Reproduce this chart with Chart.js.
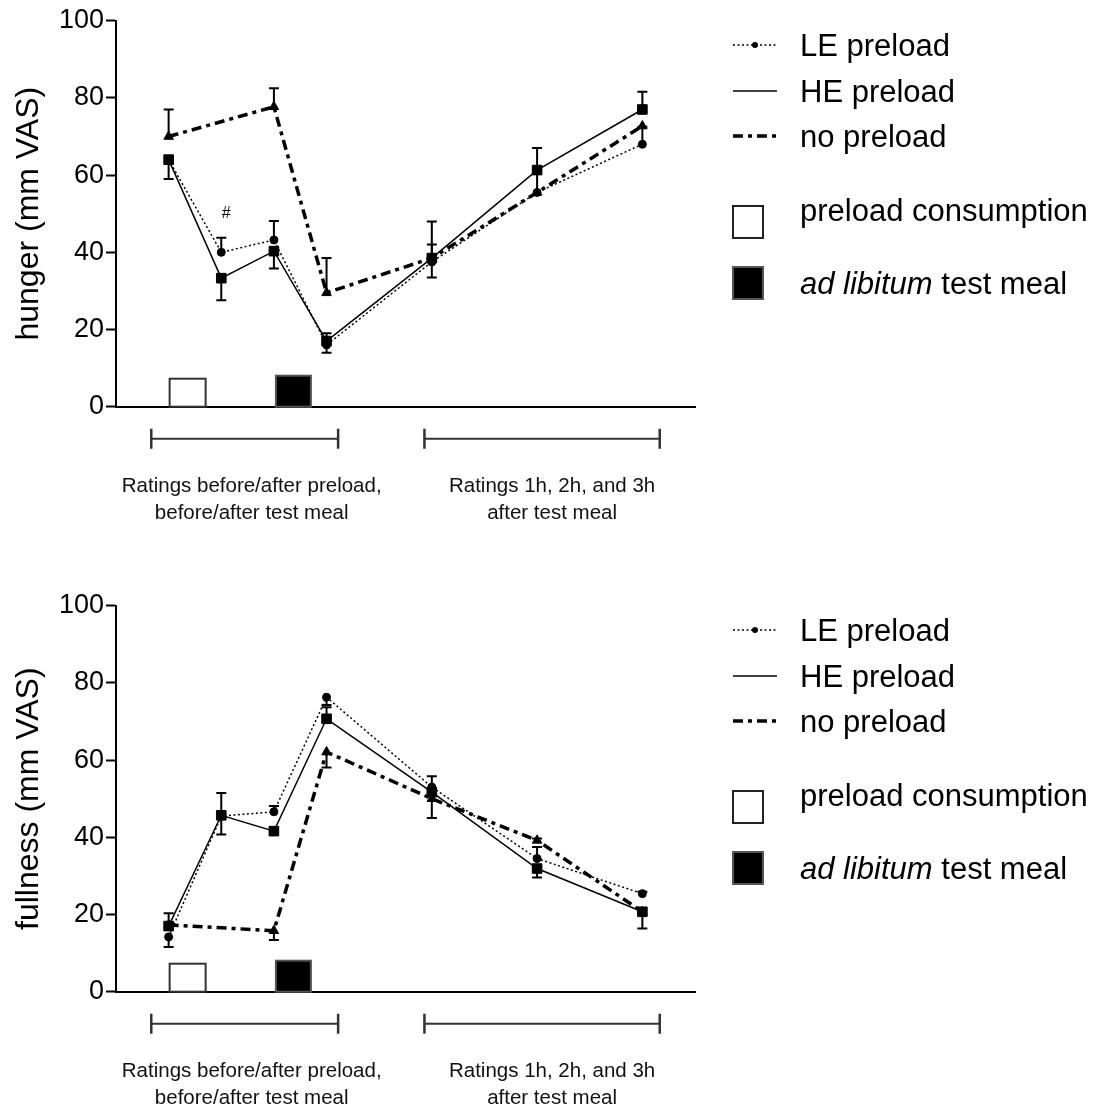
<!DOCTYPE html>
<html>
<head>
<meta charset="utf-8">
<script src="https://cdn.jsdelivr.net/npm/chart.js@4.4.1/dist/chart.umd.min.js"></script>
<style>
  html, body { margin: 0; padding: 0; background: #fff; }
  body { width: 1095px; height: 1110px; position: relative; overflow: hidden; }
  .panel { position: absolute; left: 0; width: 1095px; height: 525px; }
  #hungerPanel { top: 0; }
  #fullnessPanel { top: 585px; }
</style>
</head>
<body>
<div class="panel" id="hungerPanel"><canvas id="hungerChart"></canvas></div>
<div class="panel" id="fullnessPanel"><canvas id="fullnessChart"></canvas></div>
<script>
// time points (before/after preload, before/after meal, 1h, 2h, 3h)
const timePoints = [0, 1, 2, 3, 5, 7, 9];
const seriesNames = ["LE preload", "HE preload", "no preload"];
const yTicks = [0, 20, 40, 60, 80, 100];

const hungerLE = [64, 40, 43.2, 16, 37.5, 55.5, 68];
const hungerHE = [64, 33.3, 40.3, 17, 38.5, 61.3, 77];
const hungerNone = [70, null, 77.7, 29.5, 38.5, 55.5, 72.7];
// SEM, sign tells on which side of the mean the bar is drawn
const hungerLEErr = [null, 3.8, 4.9, -2, 4.5, 5.5, 4.5];
const hungerHEErr = [-5, -5.7, -4.5, 2, -5, 5.7, 4.6];
const hungerNoneErr = [7, null, 4.8, 9, 9.5, null, null];

const fullnessLE = [14.2, 45.5, 46.6, 76.3, 53, 34.5, 25.4];
const fullnessHE = [17, 45.7, 41.6, 70.7, 51.7, 31.9, 20.7];
const fullnessNone = [17.3, null, 15.8, 62.1, 50, 39.2, 20.7];
const fullnessLEErr = [-2.6, -4.8, 1.5, -2, 2.8, 3, 0.5];
const fullnessHEErr = [3.3, 5.8, null, 3, null, -2.3, -4.3];
const fullnessNoneErr = [null, null, -2.4, -4, -5, 0.5, null];

const eventLabels = ["preload consumption", "ad libitum test meal"];
const eventStart = [0, 2];
const periodLabels = [
  ["Ratings before/after preload,", "before/after test meal"],
  ["Ratings 1h, 2h, and 3h", "after test meal"]
];
const periodRange = [[-0.33, 3.22], [4.86, 9.33]];

const FONT = '"Liberation Sans", Arial, sans-serif';

const seriesStyle = [
  { borderWidth: 1.5, borderDash: [2, 2.5], pointStyle: 'circle', pointRadius: 4 },
  { borderWidth: 1.5, borderDash: [], pointStyle: 'rect', pointRadius: 6.8 },
  { borderWidth: 3.5, borderDash: [10, 5, 4, 5], pointStyle: 'triangle', pointRadius: 5.5 }
];

function drawLegend(ctx) {
  const x0 = 733, x1 = 777, tx = 800;
  const baselines = [56, 102, 147];
  ctx.save();
  ctx.fillStyle = '#000';
  ctx.strokeStyle = '#000';
  ctx.font = `31px ${FONT}`;
  ctx.textBaseline = 'alphabetic';
  seriesNames.forEach((name, i) => {
    const st = seriesStyle[i];
    const ly = baselines[i] - 11;
    ctx.lineWidth = st.borderWidth;
    ctx.setLineDash(st.borderDash);
    ctx.beginPath(); ctx.moveTo(x0, ly); ctx.lineTo(x1, ly); ctx.stroke();
    ctx.setLineDash([]);
    if (i === 0) {
      ctx.beginPath(); ctx.arc((x0 + x1) / 2, ly, 3, 0, Math.PI * 2); ctx.fill();
    }
    ctx.fillText(name, tx, baselines[i]);
  });

  // event boxes
  ctx.lineWidth = 2;
  ctx.strokeStyle = '#222';
  ctx.fillStyle = '#fff';
  ctx.fillRect(733, 206, 30, 32);
  ctx.strokeRect(733, 206, 30, 32);
  ctx.fillStyle = '#000';
  ctx.fillRect(733, 267, 30, 32);
  ctx.strokeStyle = '#555';
  ctx.strokeRect(733, 267, 30, 32);

  ctx.fillStyle = '#000';
  ctx.fillText(eventLabels[0], tx, 221);
  const words = eventLabels[1].split(' ');
  const ital = words.slice(0, 2).join(' ');
  ctx.font = `italic 31px ${FONT}`;
  ctx.fillText(ital, tx, 294);
  const w = ctx.measureText(ital + ' ').width;
  ctx.font = `31px ${FONT}`;
  ctx.fillText(words.slice(2).join(' '), tx + w, 294);
  ctx.restore();
}

const decorPlugin = {
  id: 'decor',
  afterDatasetsDraw(chart, args, opts) {
    const { ctx, chartArea, scales: { x, y } } = chart;
    ctx.save();

    // error bars
    ctx.strokeStyle = '#000';
    ctx.lineWidth = 2;
    ctx.setLineDash([]);
    chart.data.datasets.forEach(ds => {
      ds.data.forEach((p, i) => {
        const e = ds.errors[i];
        if (p.y == null || e == null) return;
        const px = x.getPixelForValue(p.x);
        const y0 = y.getPixelForValue(p.y);
        const y1 = y.getPixelForValue(p.y + e);
        ctx.beginPath();
        ctx.moveTo(px, y0); ctx.lineTo(px, y1);
        ctx.moveTo(px - 5, y1); ctx.lineTo(px + 5, y1);
        ctx.stroke();
      });
    });

    // preload / test meal boxes on the axis
    const bottom = chartArea.bottom;
    const bx0 = x.getPixelForValue(timePoints[eventStart[0]]) + 1;
    const bx1 = x.getPixelForValue(timePoints[eventStart[1]]) + 2;
    ctx.lineWidth = 2;
    ctx.fillStyle = '#fff';
    ctx.strokeStyle = '#333';
    ctx.fillRect(bx0, bottom - 28, 36, 28);
    ctx.strokeRect(bx0, bottom - 28, 36, 28);
    ctx.fillStyle = '#000';
    ctx.fillRect(bx1, bottom - 31, 35, 31);
    ctx.strokeStyle = '#555';
    ctx.strokeRect(bx1, bottom - 31, 35, 31);

    // period brackets
    ctx.strokeStyle = '#333';
    ctx.fillStyle = '#111';
    ctx.font = `20.5px ${FONT}`;
    ctx.textAlign = 'center';
    ctx.textBaseline = 'middle';
    const by = bottom + 32;
    periodRange.forEach((r, i) => {
      const a = x.getPixelForValue(r[0]);
      const b = x.getPixelForValue(r[1]);
      ctx.lineWidth = 2;
      ctx.beginPath(); ctx.moveTo(a, by); ctx.lineTo(b, by); ctx.stroke();
      ctx.lineWidth = 2.5;
      ctx.beginPath();
      ctx.moveTo(a, by - 10); ctx.lineTo(a, by + 10);
      ctx.moveTo(b, by - 10); ctx.lineTo(b, by + 10);
      ctx.stroke();
      const cx = (a + b) / 2 + (i === 0 ? 7 : 10);
      ctx.fillText(periodLabels[i][0], cx, bottom + 80);
      ctx.fillText(periodLabels[i][1], cx, bottom + 107);
    });

    // significance mark
    if (opts.mark) {
      const m = opts.mark;
      ctx.font = `16px ${FONT}`;
      ctx.fillStyle = '#000';
      ctx.fillText(m.text, x.getPixelForValue(timePoints[m.index]) + 5, y.getPixelForValue(m.value));
    }

    ctx.restore();
    drawLegend(ctx);
  }
};

function makeChart(id, title, series, errors, mark) {
  const datasets = series.map((vals, s) => ({
    label: seriesNames[s],
    data: timePoints.map((t, i) => ({ x: t, y: vals[i] })),
    errors: errors[s],
    borderColor: '#000',
    backgroundColor: '#000',
    pointBackgroundColor: '#000',
    pointBorderColor: '#000',
    pointBorderWidth: 1,
    borderWidth: seriesStyle[s].borderWidth,
    borderDash: seriesStyle[s].borderDash,
    pointStyle: seriesStyle[s].pointStyle,
    pointRadius: seriesStyle[s].pointRadius,
    spanGaps: true,
    tension: 0
  }));

  return new Chart(document.getElementById(id), {
    type: 'line',
    data: { datasets },
    plugins: [decorPlugin],
    options: {
      responsive: true,
      maintainAspectRatio: false,
      animation: false,
      layout: { padding: { top: 20.7, right: 400, bottom: 118.3, left: 0 } },
      plugins: {
        legend: { display: false },
        tooltip: { enabled: false },
        decor: { mark: mark }
      },
      scales: {
        x: {
          type: 'linear',
          min: -1,
          max: 10,
          ticks: { display: false },
          grid: { display: false },
          border: { display: true, color: '#000', width: 2 },
          afterFit: s => { s.height = 0; s.paddingLeft = 0; s.paddingRight = 0; }
        },
        y: {
          min: 0,
          max: 100,
          afterBuildTicks: s => { s.ticks = yTicks.map(v => ({ value: v })); },
          afterFit: s => { s.width = 116; s.paddingTop = 0; s.paddingBottom = 0; },
          grid: { display: true, drawOnChartArea: false, drawTicks: true, tickLength: 10, tickColor: '#000', tickWidth: 2 },
          border: { display: true, color: '#000', width: 2 },
          ticks: { color: '#000', font: { family: FONT, size: 27 }, padding: 2 },
          title: {
            display: true,
            text: title,
            color: '#000',
            font: { family: FONT, size: 32 },
            padding: { top: 10, bottom: 0 }
          }
        }
      }
    }
  });
}

makeChart('hungerChart', 'hunger (mm VAS)',
  [hungerLE, hungerHE, hungerNone],
  [hungerLEErr, hungerHEErr, hungerNoneErr],
  { index: 1, value: 50, text: '#' });

makeChart('fullnessChart', 'fullness (mm VAS)',
  [fullnessLE, fullnessHE, fullnessNone],
  [fullnessLEErr, fullnessHEErr, fullnessNoneErr],
  null);
</script>
</body>
</html>
